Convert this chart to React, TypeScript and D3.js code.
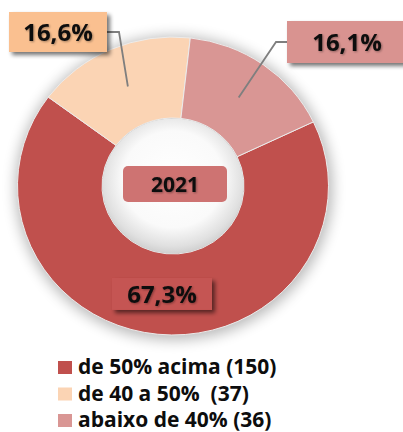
import React from "react";
import * as d3 from "d3";

const categories = ["de 50% acima (150)", "de 40 a 50%  (37)", "abaixo de 40% (36)"];
const values = [150, 37, 36];
const percentLabels = ["67,3%", "16,6%", "16,1%"];
const sliceColors = ["#C0504D", "#FBD4B4", "#D99694"];
const labelBoxColors = ["#C55553", "#FAC090", "#D99390"];
const centerLabel = "2021";

const W = 403;
const H = 432;
const cx = 173;
const cy = 186;
const yScale = 0.958;
const outerR = 155.5;
const innerR = 71;
const startDeg = 64.5;

export default function App() {
  const pie = d3
    .pie<number>()
    .sort(null)
    .value((d) => d)
    .startAngle((startDeg * Math.PI) / 180)
    .endAngle((startDeg * Math.PI) / 180 + 2 * Math.PI);
  const arcs = pie(values);
  const arcGen = d3.arc<d3.PieArcDatum<number>>().innerRadius(innerR).outerRadius(outerR);

  const centroid = (i: number) => {
    const [x, y] = arcGen.centroid(arcs[i]);
    return [cx + x, cy + y * yScale];
  };

  const font = "'Open Sans', 'Noto Sans', sans-serif";

  const boxes = [
    { i: 0, w: 100, h: 32, fs: 24, anchor: "center" as const },
    { i: 1, x: 9, y: 12, w: 98, h: 40, fs: 24, side: "right" as const, elbow: 12 },
    { i: 2, x: 287, y: 21, w: 118, h: 42, fs: 24, side: "left" as const, elbow: 11 },
  ];

  return (
    <svg
      width={W}
      height={H}
      style={{ position: "absolute", left: 0, top: 0, background: "#fff" }}
      xmlns="http://www.w3.org/2000/svg"
    >
      <defs>
        <filter id="glow" x="-30%" y="-30%" width="160%" height="160%">
          <feGaussianBlur stdDeviation="7" />
        </filter>
        <filter id="boxShadow" x="-20%" y="-30%" width="150%" height="180%">
          <feGaussianBlur in="SourceAlpha" stdDeviation="2" />
          <feOffset dx="3" dy="3" result="b" />
          <feComponentTransfer>
            <feFuncA type="linear" slope="0.55" />
          </feComponentTransfer>
          <feMerge>
            <feMergeNode />
            <feMergeNode in="SourceGraphic" />
          </feMerge>
        </filter>
        <filter id="textShadow" x="-10%" y="-20%" width="130%" height="150%">
          <feGaussianBlur in="SourceAlpha" stdDeviation="0.8" />
          <feOffset dx="1" dy="1" />
          <feComponentTransfer>
            <feFuncA type="linear" slope="0.35" />
          </feComponentTransfer>
          <feMerge>
            <feMergeNode />
            <feMergeNode in="SourceGraphic" />
          </feMerge>
        </filter>
        <radialGradient id="hole" cx="50%" cy="45%" r="55%">
          <stop offset="0%" stopColor="#ffffff" />
          <stop offset="65%" stopColor="#fafafa" />
          <stop offset="90%" stopColor="#e0e0e0" />
          <stop offset="100%" stopColor="#d0d0d0" />
        </radialGradient>
      </defs>

      <ellipse
        cx={cx + 1}
        cy={cy + 2}
        rx={outerR + 3}
        ry={outerR * yScale + 3}
        fill="#000"
        opacity={0.28}
        filter="url(#glow)"
      />

      <g transform={`translate(${cx},${cy}) scale(1,${yScale})`}>
        {arcs.map((a, i) => (
          <path
            key={i}
            d={arcGen(a) || ""}
            fill={sliceColors[i]}
            stroke="#ececec"
            strokeWidth={1}
          />
        ))}
        <circle r={innerR - 0.5} fill="url(#hole)" />
      </g>

      <rect x={123} y={166} width={104} height={36} rx={5} fill="#CE7372" />
      <text
        x={175}
        y={191.5}
        textAnchor="middle"
        fontFamily={font}
        fontWeight="bold"
        fontSize={21}
        fill="#0d0d0d"
        filter="url(#textShadow)"
      >
        {centerLabel}
      </text>

      {boxes
        .filter((b) => b.side)
        .map((b) => {
          const [ex, ey] = centroid(b.i);
          const sx = b.side === "right" ? b.x! + b.w : b.x!;
          const sy = b.y! + b.h / 2;
          const mx = b.side === "right" ? sx + b.elbow! : sx - b.elbow!;
          return (
            <polyline
              key={"l" + b.i}
              points={`${sx},${sy} ${mx},${sy} ${ex},${ey}`}
              fill="none"
              stroke="#7f7f7f"
              strokeWidth={1.8}
            />
          );
        })}

      {boxes.map((b) => {
        let x: number, y: number;
        if (b.anchor === "center") {
          const [px, py] = centroid(b.i);
          x = px - b.w / 2;
          y = py - b.h / 2;
        } else {
          x = b.x!;
          y = b.y!;
        }
        return (
          <g key={"b" + b.i}>
            <rect
              x={x}
              y={y}
              width={b.w}
              height={b.h}
              fill={labelBoxColors[b.i]}
              filter="url(#boxShadow)"
            />
            <text
              x={b.i === 2 ? x + 60 : x + b.w / 2}
              y={y + b.h / 2 + b.fs * 0.36}
              textAnchor="middle"
              fontFamily={font}
              fontWeight="bold"
              fontSize={b.fs}
              fill="#0d0d0d"
              filter="url(#textShadow)"
            >
              {percentLabels[b.i]}
            </text>
          </g>
        );
      })}

      {categories.map((c, i) => {
        const base = 374 + i * 26.5;
        return (
          <g key={"lg" + i}>
            <rect x={58} y={base - 13} width={14} height={13} fill={sliceColors[i]} />
            <text
              x={78}
              y={base}
              fontFamily={font}
              fontWeight="bold"
              fontSize={21}
              fill="#0d0d0d"
              style={{ whiteSpace: "pre" }}
            >
              {c}
            </text>
          </g>
        );
      })}
    </svg>
  );
}
